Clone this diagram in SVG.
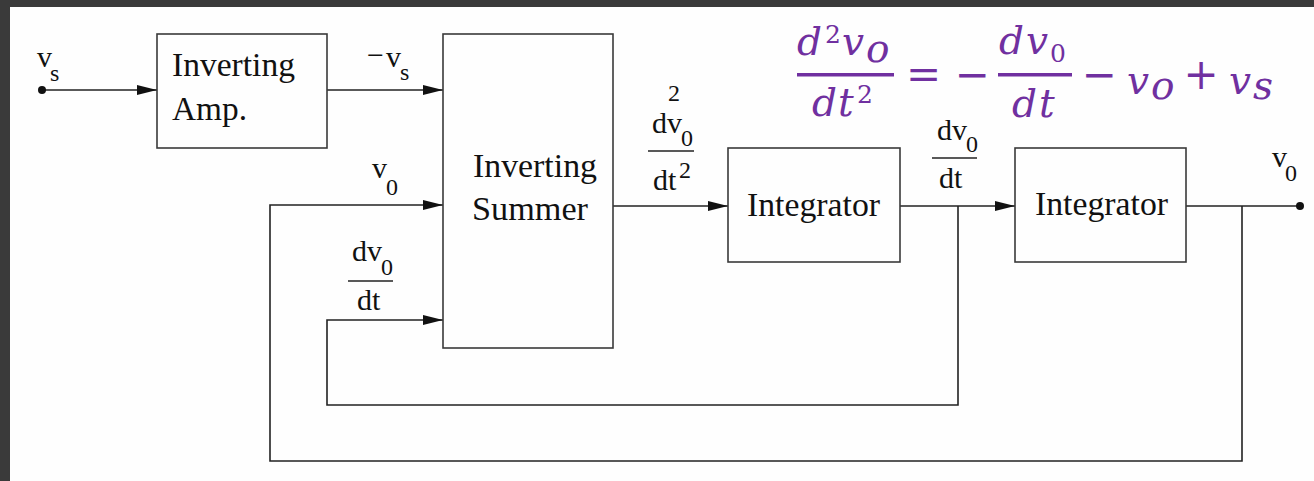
<svg xmlns="http://www.w3.org/2000/svg" width="1314" height="481" viewBox="0 0 1314 481">
  <style>
    .box { fill: none; stroke: #3a3a3a; stroke-width: 1.6; }
    .wire { fill: none; stroke: #222; stroke-width: 1.6; }
    .bar { stroke: #222; stroke-width: 1.5; }
    .t { font-family: 'Liberation Serif', 'Tinos', 'Times New Roman', 'DejaVu Serif', serif; fill: #111; }
    .big { font-size: 33px; }
    .lbl { font-size: 30px; }
    .sub { font-size: 24px; }
    .eq { font-family: 'DejaVu Serif', 'Liberation Serif', serif; font-style: italic; fill: #7030A0; font-size: 39px; }
    .eqs { font-family: 'DejaVu Serif', 'Liberation Serif', serif; fill: #7030A0; font-size: 25px; }
    .eqo { font-family: 'DejaVu Serif', 'Liberation Serif', serif; fill: #7030A0; font-size: 42px; }
    .pb { fill: #7030A0; }
  </style>
  <defs>
    <marker id="arr" markerUnits="userSpaceOnUse" markerWidth="20" markerHeight="10" refX="20" refY="5" orient="auto">
      <path d="M0,0 L20,5 L0,10 Z" fill="#111"/>
    </marker>
  </defs>
  <rect x="0" y="0" width="1314" height="481" fill="#3a3a3a"/>
  <rect x="10" y="7" width="1304" height="474" fill="#fefefe"/>

  <g id="connectors">
    <line class="wire" x1="42" y1="90" x2="157" y2="90" marker-end="url(#arr)"/>
    <line class="wire" x1="327" y1="90" x2="443" y2="90" marker-end="url(#arr)"/>
    <polyline class="wire" points="1242,206 1242,461 270,461 270,205 443,205" marker-end="url(#arr)"/>
    <polyline class="wire" points="958,206 958,405 327,405 327,320 443,320" marker-end="url(#arr)"/>
    <line class="wire" x1="613" y1="206" x2="728" y2="206" marker-end="url(#arr)"/>
    <line class="wire" x1="900" y1="206" x2="1015" y2="206" marker-end="url(#arr)"/>
    <line class="wire" x1="1186" y1="206" x2="1300" y2="206"/>
    <circle cx="42" cy="90" r="4" fill="#111"/>
    <circle cx="1300" cy="206" r="4" fill="#111"/>
  </g>

  <g id="amp">
    <rect class="box" x="157" y="34" width="170" height="114"/>
    <text class="t big" x="172" y="76" textLength="123" lengthAdjust="spacingAndGlyphs">Inverting</text>
    <text class="t big" x="172" y="120" textLength="75" lengthAdjust="spacingAndGlyphs">Amp.</text>
  </g>
  <g id="summer">
    <rect class="box" x="443" y="34" width="170" height="314"/>
    <text class="t big" x="473" y="177" textLength="124" lengthAdjust="spacingAndGlyphs">Inverting</text>
    <text class="t big" x="472" y="220" textLength="116" lengthAdjust="spacingAndGlyphs">Summer</text>
  </g>
  <g id="integrator1">
    <rect class="box" x="728" y="148" width="172" height="114"/>
    <text class="t big" x="747" y="216" textLength="133" lengthAdjust="spacingAndGlyphs">Integrator</text>
  </g>
  <g id="integrator2">
    <rect class="box" x="1015" y="148" width="171" height="114"/>
    <text class="t big" x="1035" y="215" textLength="133" lengthAdjust="spacingAndGlyphs">Integrator</text>
  </g>

  <g id="labels">
    <text class="t lbl" x="37" y="67">v</text><text class="t sub" x="50" y="81">s</text>
    <text class="t lbl" x="367" y="65">−</text>
    <text class="t lbl" x="386" y="67">v</text><text class="t sub" x="400" y="80">s</text>
    <text class="t lbl" x="372" y="178">v</text><text class="t sub" x="386" y="195">0</text>
    <text class="t lbl" x="352" y="261">dv</text><text class="t sub" x="381" y="275">0</text>
    <line class="bar" x1="348" y1="281" x2="393" y2="281"/>
    <text class="t lbl" x="357" y="310">dt</text>
    <text class="t sub" x="668" y="101" font-size="20">2</text>
    <text class="t lbl" x="652" y="133">dv</text><text class="t sub" x="681" y="146">0</text>
    <line class="bar" x1="648" y1="151" x2="694" y2="151"/>
    <text class="t lbl" x="653" y="190">dt</text><text class="t sub" x="679" y="178" font-size="20">2</text>
    <text class="t lbl" x="937" y="140">dv</text><text class="t sub" x="966" y="152">0</text>
    <line class="bar" x1="932" y1="158" x2="977" y2="158"/>
    <text class="t lbl" x="939" y="188">dt</text>
    <text class="t lbl" x="1272" y="167">v</text><text class="t sub" x="1285" y="181">0</text>
  </g>

  <g id="equation">
    <text class="eq" x="797" y="55">d</text><text class="eqs" x="825" y="43">2</text>
    <text class="eq" x="842" y="55">v</text><text class="eq" x="866" y="62" font-size="26">o</text>
    <rect class="pb" x="797" y="73" width="97" height="3.5"/>
    <text class="eq" x="812" y="116">d</text><text class="eq" x="838" y="116">t</text><text class="eqs" x="857" y="103">2</text>
    <text class="eqo" x="923.5" y="89" text-anchor="middle">=</text>
    <text class="eqo" x="972" y="89" text-anchor="middle">−</text>
    <text class="eq" x="999" y="54">d</text><text class="eq" x="1026" y="54">v</text><text class="eqs" x="1050" y="62">0</text>
    <rect class="pb" x="998" y="73" width="74" height="3.5"/>
    <text class="eq" x="1012" y="117">d</text><text class="eq" x="1039" y="117">t</text>
    <text class="eqo" x="1099" y="89" text-anchor="middle">−</text>
    <text class="eq" x="1127" y="94">v</text><text class="eq" x="1151" y="99" font-size="25">o</text>
    <text class="eqo" x="1201" y="89" text-anchor="middle">+</text>
    <text class="eq" x="1229" y="94">v</text><text class="eq" x="1253" y="99" font-size="25">s</text>
  </g>
</svg>
